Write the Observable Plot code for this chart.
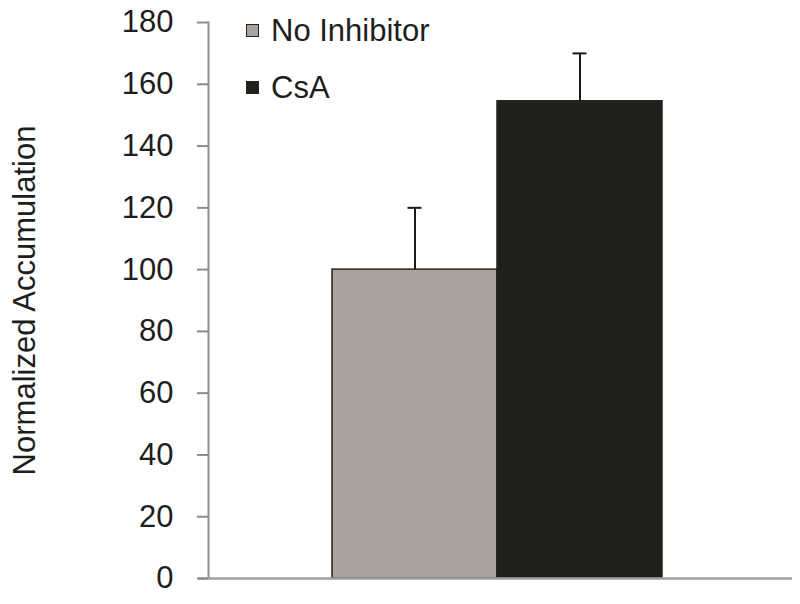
<!DOCTYPE html>
<html>
<head>
<meta charset="utf-8">
<script src="https://cdn.jsdelivr.net/npm/d3@7"></script>
<script src="https://cdn.jsdelivr.net/npm/@observablehq/plot@0.6"></script>
<style>
  html, body { margin: 0; padding: 0; background: #fff; }
  #wrap { position: relative; width: 800px; height: 604px; font-family: "Liberation Sans", Arial, sans-serif; }
  .item { position: absolute; left: 246px; display: flex; align-items: center; height: 31px; line-height: 31px; color: #1e1e1e; font-size: 31px; white-space: nowrap; }
  .sw { width: 11px; height: 11px; border: 1px solid #222; margin-right: 12px; }
</style>
</head>
<body>
<div id="wrap"></div>
<script>
const categories = ["No Inhibitor", "CsA"];
const values = [100, 154.5];
const errors = [20, 15.5];
const colors = ["#aaa29b", "#201f1b"];
const yTicks = [0, 20, 40, 60, 80, 100, 120, 140, 160, 180];
const yLabel = "Normalized Accumulation";

const data = categories.map((c, i) => ({cat: c, value: values[i], upper: values[i] + errors[i], color: colors[i]}));

const chart = Plot.plot({
  width: 800,
  height: 604,
  marginLeft: 208,
  marginRight: 8,
  marginTop: 22,
  marginBottom: 26,
  style: {fontFamily: "'Liberation Sans', Arial, sans-serif", color: "#1e1e1e", background: "#fff"},
  x: {domain: categories, axis: null, paddingInner: 0, paddingOuter: 0.764, align: 0.49},
  y: {domain: [0, 180]},
  marks: [
    Plot.ruleX(data, {x: "cat", y1: "value", y2: "upper", stroke: "#1a1a1a", strokeWidth: 2}),
    Plot.tickY(data, {x: "cat", y: "upper", stroke: "#1a1a1a", strokeWidth: 2, insetLeft: 75.5, insetRight: 75.5}),
    Plot.barY(data, {x: "cat", y: "value", fill: "color", stroke: "#222", strokeWidth: 1.5}),
    Plot.frame({anchor: "left", stroke: "#8c8c8c", strokeWidth: 2}),
    Plot.ruleY([0], {stroke: "#a0a0a0", strokeWidth: 2.5, insetLeft: -10}),
    Plot.axisY({
      ticks: yTicks, tickSize: 11, tickPadding: 24, fontSize: 31, stroke: "#8c8c8c", strokeWidth: 2,
      fill: "#1e1e1e",
      label: yLabel, labelAnchor: "center", labelArrow: "none", labelOffset: 196
    })
  ]
});
document.getElementById("wrap").prepend(chart);
chart.style.position = "absolute";
chart.style.left = "0";
chart.style.top = "0";

const wrap = d3.select("#wrap");
const legendTops = [15, 72];
categories.forEach((c, i) => {
  const it = wrap.append("div").attr("class", "item").style("top", legendTops[i] + "px");
  it.append("div").attr("class", "sw").style("background", colors[i]);
  it.append("span").text(c);
});
</script>
</body>
</html>
